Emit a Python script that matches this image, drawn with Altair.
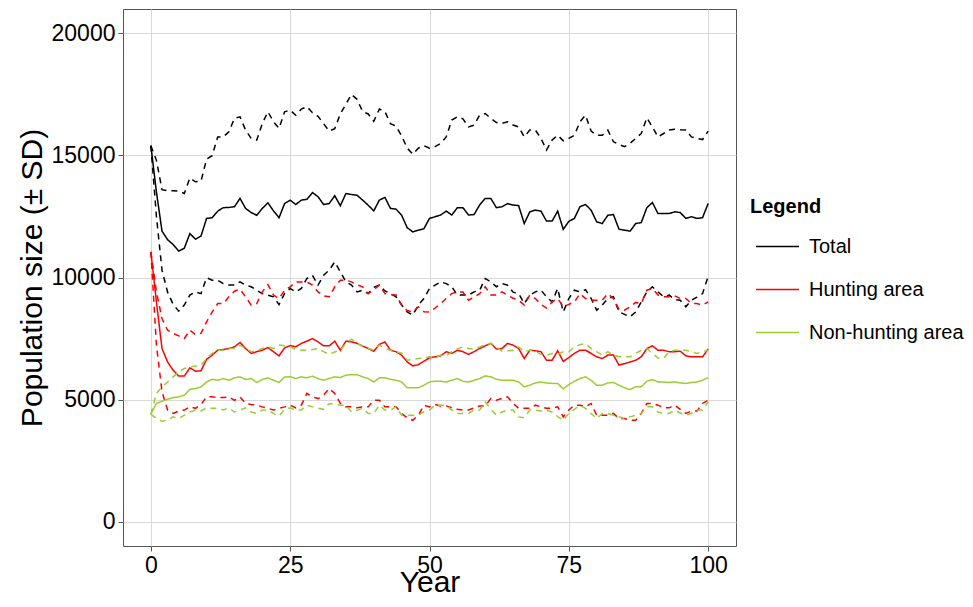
import altair as alt
import pandas as pd

years = list(range(101))
groups = ["Total", "Hunting area", "Non-hunting area"]
colors = ["#000000", "#FF0000", "#9ACD32"]

total_mean = [15400,13500,11900,11550,11350,11080,11200,11800,11570,11700,
12420,12450,12720,12860,12870,12900,13240,12830,12660,12550,
12830,13060,12730,12450,13030,13170,12990,13170,13200,13480,
13310,12990,13030,13350,12940,13440,13400,13370,13170,12960,
12730,13170,13280,12830,12800,12550,12040,11870,11940,12000,
12420,12490,12560,12720,12560,12860,12860,12560,12580,12970,
13240,13240,12860,12900,13030,12970,12940,12210,12690,12760,
12720,12310,12310,12720,11970,12300,12420,12900,12990,12760,
12280,12210,12550,12580,11980,11940,11900,12210,12250,12860,
13070,12620,12620,12620,12690,12660,12420,12490,12420,12450,
13030]

total_upper = [15400,14800,13600,13550,13550,13540,13440,14080,13920,13950,
14850,14990,15760,15760,15970,16520,16580,16040,15700,15630,
16310,16790,16380,16110,16790,16860,16650,16900,17000,16750,
16600,16300,16000,16100,16700,17100,17500,17300,16800,16700,
16400,16900,16800,16300,16200,15800,15300,15050,15300,15400,
15300,15360,15490,15760,16450,16580,16500,16170,16240,16650,
16720,16520,16350,16310,16380,16250,16170,15760,16040,16040,
15700,15220,15630,15830,15600,15700,15830,16380,16650,16000,
15830,15830,16040,15560,15450,15360,15500,15700,15900,16540,
16170,15760,15900,16040,16070,16050,16040,15760,15700,15650,
16000]

total_lower = [15400,12500,10300,9400,8900,8620,8870,9280,9410,9340,
9990,9890,9890,9750,9690,9690,9820,9690,9620,9480,
9340,9280,9210,8890,9350,9550,9410,9550,9960,10090,
9690,10090,10300,10640,10230,9820,9690,9410,9480,9340,
9600,9690,9450,9340,9210,8870,8590,8460,8870,9140,
9550,9690,9820,9750,9620,9280,9280,9280,9410,9480,
9960,9820,9620,9750,9690,9400,9340,8930,9280,9410,
9480,9210,9000,9550,8590,9140,9480,9410,9500,9140,
8660,8870,9140,9210,8590,8490,8390,8590,9000,9410,
9620,9410,9210,9280,9100,9070,8800,9070,9200,9340,
10050]

hunt_mean = [11050,9000,7090,6540,6200,5960,5960,6300,6160,6180,
6650,6820,7020,7050,7090,7160,7340,7090,6890,6960,
7020,7130,6960,6790,7120,7210,7160,7300,7390,7500,
7360,7200,7200,7390,7020,7390,7360,7300,7190,7090,
6980,7260,7360,7020,6960,6820,6540,6380,6430,6570,
6710,6750,6790,6960,6890,7020,6960,6850,6960,7090,
7200,7300,7070,7090,7300,7230,7090,6680,7020,7000,
6960,6610,6610,7000,6560,6720,6890,7020,7020,6890,
6750,6680,6820,6820,6410,6470,6540,6610,6750,7090,
7200,7020,7020,6960,6960,6980,6790,6750,6750,6750,
7070]

hunt_upper = [11050,9410,8320,7840,7710,7610,7500,7840,7660,7710,
8180,8590,8930,8930,9210,9440,9520,9210,8870,8930,
9410,9710,9280,9140,9480,9620,9820,9820,9820,9690,
9410,9250,9210,9620,9890,9890,9820,9700,9620,9340,
9500,9690,9340,9300,9280,8870,8650,8590,8800,8600,
8590,8750,8930,9140,9340,9410,9410,9070,9200,9340,
9620,9280,9280,9410,9280,9150,9070,8870,9280,9140,
8900,8750,9000,9140,8800,8900,9000,9340,9140,9070,
9070,9070,9340,9140,8700,8660,8800,8980,8930,9480,
9550,9280,9210,9210,9250,9140,9140,8930,8930,8870,
9000]

hunt_lower = [11050,7230,5320,4570,4430,4530,4570,4700,4640,4800,
5110,5110,5080,5080,5110,4970,5110,4840,4800,4770,
4700,4640,4570,4640,4700,4770,4660,4770,5250,5110,
5040,5180,5450,5250,4840,4700,4700,4660,4700,4700,
4970,4970,4700,4700,4700,4430,4250,4150,4360,4770,
4700,4800,4740,4740,4660,4600,4570,4570,4660,4740,
4740,5040,4970,5050,5110,4840,4640,4640,4640,4770,
4700,4640,4640,4700,4290,4570,4770,4770,4700,4840,
4360,4360,4360,4430,4220,4220,4150,4150,4430,4840,
4840,4770,4660,4660,4770,4600,4430,4530,4530,4840,
4970]

nonhunt_mean = [4400,4840,4930,5010,5080,5110,5180,5420,5450,5520,
5720,5830,5790,5860,5790,5890,5930,5820,5860,5700,
5820,5890,5790,5700,5920,5940,5860,5930,5890,5960,
5860,5790,5860,5930,5900,6000,6020,6020,5930,5860,
5720,5890,5890,5830,5790,5720,5480,5480,5480,5590,
5720,5750,5750,5720,5790,5860,5750,5720,5790,5860,
5970,5930,5830,5790,5790,5790,5720,5520,5590,5680,
5720,5680,5660,5660,5440,5610,5750,5860,5930,5790,
5590,5590,5680,5700,5590,5480,5410,5520,5520,5750,
5820,5720,5720,5700,5720,5680,5660,5700,5720,5790,
5900]

nonhunt_upper = [4400,5250,5520,5720,5930,6130,6270,6340,6370,6410,
6680,6890,7020,7020,7090,7090,7230,7090,6960,7000,
7090,7160,7090,7230,7200,7160,7050,7020,7020,7050,
7090,6960,6850,6950,7020,7300,7470,7300,7200,7100,
7020,7230,7100,7020,6960,6900,6610,6650,6680,6710,
6750,6710,6820,6790,6950,7070,7160,7090,7070,7150,
7260,7300,7160,6980,7000,7020,7160,6960,7020,6960,
6850,6820,6890,6850,6960,6960,7160,7250,7300,7090,
6960,6820,6960,6820,6750,6750,6750,6890,7020,7090,
6890,6700,6680,6960,7020,7020,7020,6960,6890,6960,
7020]

nonhunt_lower = [4400,4220,4110,4150,4290,4220,4360,4490,4570,4530,
4660,4640,4640,4570,4660,4490,4570,4660,4490,4430,
4570,4570,4430,4320,4600,4660,4570,4570,4770,4700,
4650,4600,4840,4800,4770,4770,4490,4560,4640,4430,
4430,4770,4570,4570,4700,4360,4360,4360,4360,4500,
4570,4770,4770,4770,4570,4430,4430,4430,4570,4570,
4910,4600,4360,4490,4570,4570,4290,4250,4570,4570,
4530,4570,4490,4300,4150,4430,4600,4770,4640,4430,
4220,4430,4430,4360,4300,4220,4290,4360,4430,4700,
4700,4490,4430,4430,4570,4450,4360,4430,4570,4570,
4910]

series = [
    ("Total", "mean", "solid", total_mean),
    ("Total", "upper", "dashed", total_upper),
    ("Total", "lower", "dashed", total_lower),
    ("Hunting area", "mean", "solid", hunt_mean),
    ("Hunting area", "upper", "dashed", hunt_upper),
    ("Hunting area", "lower", "dashed", hunt_lower),
    ("Non-hunting area", "mean", "solid", nonhunt_mean),
    ("Non-hunting area", "upper", "dashed", nonhunt_upper),
    ("Non-hunting area", "lower", "dashed", nonhunt_lower),
]

rows = []
for grp, kind, dash, vals in series:
    for yr, v in zip(years, vals):
        rows.append({"Year": yr, "Value": v, "Group": grp, "Dash": dash, "Line": grp + " " + kind})
df = pd.DataFrame(rows)

FONT = "Liberation Sans"

chart = alt.Chart(df).mark_line(strokeWidth=1.5).encode(
    x=alt.X("Year:Q", scale=alt.Scale(domain=[-5, 105], nice=False, zero=False),
            axis=alt.Axis(values=[0, 25, 50, 75, 100], format="d", title="Year")),
    y=alt.Y("Value:Q", scale=alt.Scale(domain=[-1000, 21000], nice=False, zero=False),
            axis=alt.Axis(values=[0, 5000, 10000, 15000, 20000], format="d",
                          title="Population size (± SD)")),
    color=alt.Color("Group:N", sort=groups,
                    scale=alt.Scale(domain=groups, range=colors),
                    legend=alt.Legend(title="Legend", orient="none", legendX=627, legendY=188,
                                      symbolType="stroke", symbolSize=1849, symbolStrokeWidth=1.5,
                                      rowPadding=10, titlePadding=7, labelOffset=9, symbolOffset=5,
                                      titleFontSize=20, titleFontWeight="bold", titleFont=FONT,
                                      titleColor="black", labelFontSize=20, labelFont=FONT,
                                      labelColor="black")),
    strokeDash=alt.StrokeDash("Dash:N", scale=alt.Scale(domain=["solid", "dashed"], range=[[1, 0], [6, 5]]),
                              legend=None),
    detail="Line:N",
).properties(
    width=613, height=537,
    autosize=alt.AutoSizeParams(type="none"),
    padding={"left": 115, "top": 1, "right": 229, "bottom": 52},
).configure_view(
    stroke="#555555", strokeWidth=1
).configure_axis(
    grid=True, gridColor="#D9D9D9", gridWidth=1, domain=False,
    tickColor="#555555", tickSize=5, labelPadding=3,
    labelFont=FONT, labelFontSize=23, labelColor="black",
    titleFont=FONT, titleFontSize=30, titleFontWeight="normal", titleColor="black",
).configure_axisY(titlePadding=4).configure_axisX(titlePadding=-10)

chart.save("out.html", embed_options={"renderer": "svg", "actions": False})
